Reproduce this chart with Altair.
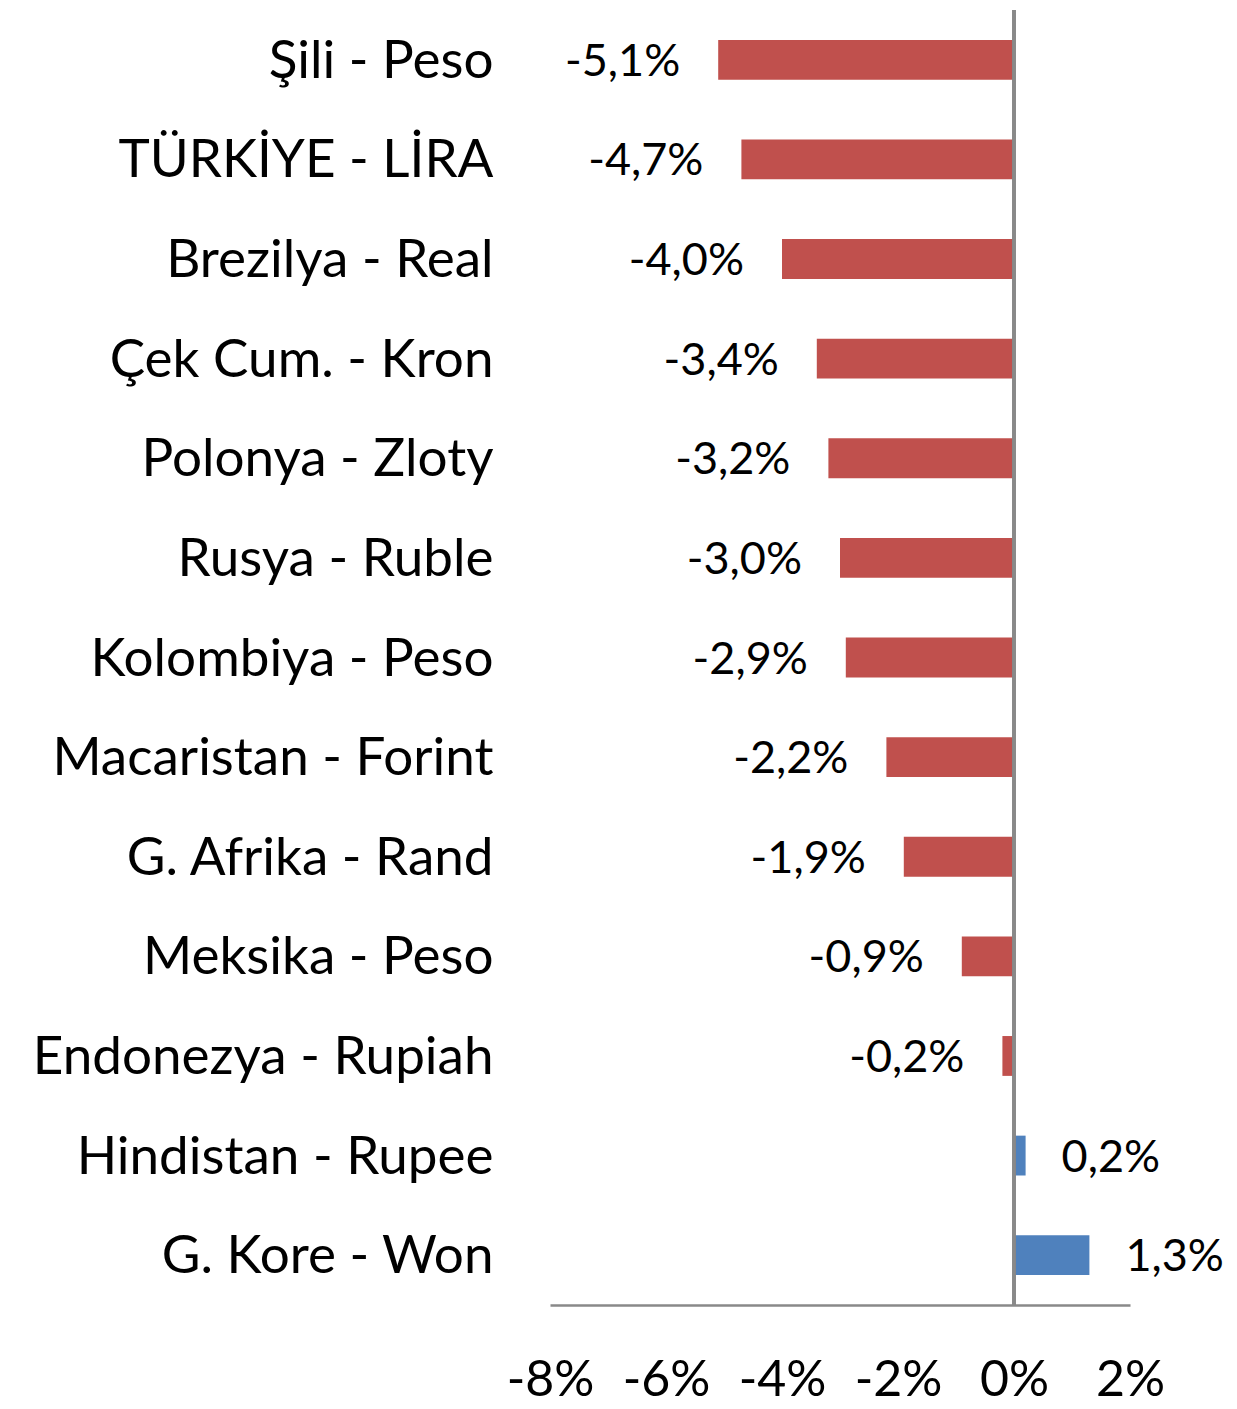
import altair as alt
import pandas as pd

categories = [
    "Şili - Peso", "TÜRKİYE - LİRA", "Brezilya - Real", "Çek Cum. - Kron",
    "Polonya - Zloty", "Rusya - Ruble", "Kolombiya - Peso", "Macaristan - Forint",
    "G. Afrika - Rand", "Meksika - Peso", "Endonezya - Rupiah", "Hindistan - Rupee",
    "G. Kore - Won",
]
values = [-5.1, -4.7, -4.0, -3.4, -3.2, -3.0, -2.9, -2.2, -1.9, -0.9, -0.2, 0.2, 1.3]
x_ticks = [-8, -6, -4, -2, 0, 2]

df = pd.DataFrame({"cat": categories, "val": values})
df["label"] = [f"{v:.1f}".replace(".", ",") + "%" for v in values]
df["sign"] = ["neg" if v < 0 else "pos" for v in values]

FONT = "Lato"
GRAY = "#898989"

x_enc = alt.X("val:Q", scale=alt.Scale(domain=[-8, 2], nice=False, zero=False),
              axis=alt.Axis(values=x_ticks, labelExpr="datum.value + '%'", grid=False,
                            ticks=False, domainColor=GRAY, domainWidth=2.5,
                            labelFont=FONT, labelFontSize=50, labelColor="black",
                            labelPadding=50, labelOverlap=False, labelFlush=False,
                            title=None))
y_enc = alt.Y("cat:N", sort=categories,
              scale=alt.Scale(paddingInner=0.6, paddingOuter=0.3),
              axis=alt.Axis(domain=False, ticks=False, grid=False, labelFont=FONT,
                            labelFontSize=53, labelColor="black", labelPadding=57,
                            labelOffset=2, labelLimit=600, title=None))

bars = alt.Chart(df).mark_bar().encode(
    x=x_enc,
    y=y_enc,
    color=alt.Color("sign:N", scale=alt.Scale(domain=["neg", "pos"], range=["#C0504D", "#4F81BD"]), legend=None),
)

zero = alt.Chart(df).mark_rule(color=GRAY, strokeWidth=2.5).encode(x=alt.datum(0))

neg_text = alt.Chart(df).transform_filter("datum.val < 0").mark_text(
    align="right", baseline="middle", dx=-38, dy=2, font=FONT, fontSize=45, color="black"
).encode(x="val:Q", y=alt.Y("cat:N", sort=categories), text="label:N")

pos_text = alt.Chart(df).transform_filter("datum.val >= 0").mark_text(
    align="left", baseline="middle", dx=36, dy=2, font=FONT, fontSize=45, color="black"
).encode(x="val:Q", y=alt.Y("cat:N", sort=categories), text="label:N")

chart = alt.layer(bars, zero, neg_text, pos_text).properties(
    width=580, height=1295,
    background="white",
    autosize=alt.AutoSizeParams(type="none"),
    padding={"left": 550, "top": 10, "right": 107, "bottom": 104},
).configure_view(stroke=None, strokeWidth=0)

chart.save("out.html", embed_options={"renderer": "svg", "actions": False})
